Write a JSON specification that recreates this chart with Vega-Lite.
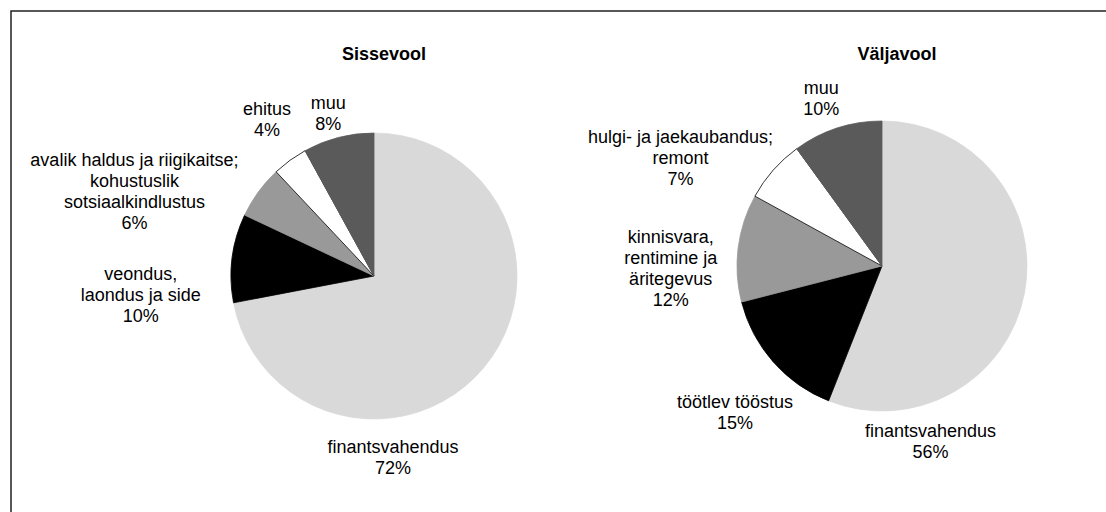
{
  "$schema": "https://vega.github.io/schema/vega-lite/v6.json",
  "width": 1105,
  "height": 511,
  "autosize": "none",
  "padding": {"left": 11, "top": 11, "right": -10, "bottom": -10},
  "background": "#ffffff",
  "config": {"view": {"stroke": "#222222", "strokeWidth": 1.5}, "font": "Liberation Sans"},
  "data": {"values": [
    {"flow": "Sissevool", "rank": 1, "sector": "finantsvahendus", "share": 72, "label": "finantsvahendus\n72%"},
    {"flow": "Sissevool", "rank": 2, "sector": "veondus, laondus ja side", "share": 10, "label": "veondus,\nlaondus ja side\n10%"},
    {"flow": "Sissevool", "rank": 3, "sector": "avalik haldus ja riigikaitse; kohustuslik sotsiaalkindlustus", "share": 6, "label": "avalik haldus ja riigikaitse;\nkohustuslik\nsotsiaalkindlustus\n6%"},
    {"flow": "Sissevool", "rank": 4, "sector": "ehitus", "share": 4, "label": "ehitus\n4%"},
    {"flow": "Sissevool", "rank": 5, "sector": "muu", "share": 8, "label": "muu\n8%"},
    {"flow": "Väljavool", "rank": 1, "sector": "finantsvahendus", "share": 56, "label": "finantsvahendus\n56%"},
    {"flow": "Väljavool", "rank": 2, "sector": "töötlev tööstus", "share": 15, "label": "töötlev tööstus\n15%"},
    {"flow": "Väljavool", "rank": 3, "sector": "kinnisvara, rentimine ja äritegevus", "share": 12, "label": "kinnisvara,\nrentimine ja\näritegevus\n12%"},
    {"flow": "Väljavool", "rank": 4, "sector": "hulgi- ja jaekaubandus; remont", "share": 7, "label": "hulgi- ja jaekaubandus;\nremont\n7%"},
    {"flow": "Väljavool", "rank": 5, "sector": "muu", "share": 10, "label": "muu\n10%"}
  ]},
  "encoding": {
    "x": {"field": "flow", "type": "nominal", "axis": null, "scale": {"type": "point", "domain": ["Sissevool", "Väljavool"], "range": [363, 871], "padding": 0}},
    "y": {"field": "flow", "type": "nominal", "axis": null, "scale": {"type": "point", "domain": ["Sissevool", "Väljavool"], "range": [265, 255], "padding": 0}}
  },
  "layer": [
    {
      "transform": [{"filter": "datum.flow === 'Sissevool'"}],
      "layer": [
        {
          "mark": {"type": "arc", "outerRadius": 143, "strokeWidth": 0.8},
          "encoding": {
            "theta": {"field": "share", "type": "quantitative", "stack": true},
            "order": {"field": "rank", "type": "quantitative"},
            "color": {"field": "sector", "type": "nominal", "legend": null, "scale": {"domain": ["finantsvahendus", "veondus, laondus ja side", "töötlev tööstus", "avalik haldus ja riigikaitse; kohustuslik sotsiaalkindlustus", "kinnisvara, rentimine ja äritegevus", "ehitus", "hulgi- ja jaekaubandus; remont", "muu"], "range": ["#d9d9d9", "#000000", "#000000", "#999999", "#999999", "#ffffff", "#ffffff", "#5a5a5a"]}},
            "stroke": {"field": "sector", "type": "nominal", "legend": null, "scale": {"domain": ["finantsvahendus", "veondus, laondus ja side", "töötlev tööstus", "avalik haldus ja riigikaitse; kohustuslik sotsiaalkindlustus", "kinnisvara, rentimine ja äritegevus", "ehitus", "hulgi- ja jaekaubandus; remont", "muu"], "range": ["#d9d9d9", "#000000", "#000000", "#999999", "#999999", "#000000", "#000000", "#5a5a5a"]}}
          }
        },
        {
          "mark": {"type": "text", "radius": 131, "dx": -82, "dy": 88.5, "fontSize": 18, "lineBreak": "\n", "lineHeight": 21, "baseline": "middle", "align": "center", "color": "#000000"},
          "encoding": {
            "theta": {"field": "share", "type": "quantitative", "stack": true},
            "order": {"field": "rank", "type": "quantitative"},
            "detail": {"field": "sector", "type": "nominal"},
            "text": {"condition": {"test": "datum.rank === 1", "field": "label", "type": "nominal"}, "value": ""}
          }
        },
        {
          "mark": {"type": "text", "radius": 229, "dx": -6, "dy": 28, "fontSize": 18, "lineBreak": "\n", "lineHeight": 21, "baseline": "middle", "align": "center", "color": "#000000"},
          "encoding": {
            "theta": {"field": "share", "type": "quantitative", "stack": true},
            "order": {"field": "rank", "type": "quantitative"},
            "detail": {"field": "sector", "type": "nominal"},
            "text": {"condition": {"test": "datum.rank === 2", "field": "label", "type": "nominal"}, "value": ""}
          }
        },
        {
          "mark": {"type": "text", "radius": 243, "dx": -43, "dy": 27.5, "fontSize": 18, "lineBreak": "\n", "lineHeight": 21, "baseline": "middle", "align": "center", "color": "#000000"},
          "encoding": {
            "theta": {"field": "share", "type": "quantitative", "stack": true},
            "order": {"field": "rank", "type": "quantitative"},
            "detail": {"field": "sector", "type": "nominal"},
            "text": {"condition": {"test": "datum.rank === 3", "field": "label", "type": "nominal"}, "value": ""}
          }
        },
        {
          "mark": {"type": "text", "radius": 189, "dx": 4, "dy": -13.5, "fontSize": 18, "lineBreak": "\n", "lineHeight": 21, "baseline": "middle", "align": "center", "color": "#000000"},
          "encoding": {
            "theta": {"field": "share", "type": "quantitative", "stack": true},
            "order": {"field": "rank", "type": "quantitative"},
            "detail": {"field": "sector", "type": "nominal"},
            "text": {"condition": {"test": "datum.rank === 4", "field": "label", "type": "nominal"}, "value": ""}
          }
        },
        {
          "mark": {"type": "text", "radius": 168, "dx": -4, "dy": -9.5, "fontSize": 18, "lineBreak": "\n", "lineHeight": 21, "baseline": "middle", "align": "center", "color": "#000000"},
          "encoding": {
            "theta": {"field": "share", "type": "quantitative", "stack": true},
            "order": {"field": "rank", "type": "quantitative"},
            "detail": {"field": "sector", "type": "nominal"},
            "text": {"condition": {"test": "datum.rank === 5", "field": "label", "type": "nominal"}, "value": ""}
          }
        },
        {
          "transform": [{"aggregate": [{"op": "sum", "field": "share", "as": "total"}], "groupby": ["flow"]}],
          "mark": {"type": "text", "fontSize": 18, "fontWeight": "bold", "dx": 10, "dy": -216, "baseline": "alphabetic", "align": "center", "color": "#000000"},
          "encoding": {"text": {"field": "flow", "type": "nominal"}}
        }
      ]
    },
    {
      "transform": [{"filter": "datum.flow === 'Väljavool'"}],
      "layer": [
        {
          "mark": {"type": "arc", "outerRadius": 145, "strokeWidth": 0.8},
          "encoding": {
            "theta": {"field": "share", "type": "quantitative", "stack": true},
            "order": {"field": "rank", "type": "quantitative"},
            "color": {"field": "sector", "type": "nominal", "legend": null, "scale": {"domain": ["finantsvahendus", "veondus, laondus ja side", "töötlev tööstus", "avalik haldus ja riigikaitse; kohustuslik sotsiaalkindlustus", "kinnisvara, rentimine ja äritegevus", "ehitus", "hulgi- ja jaekaubandus; remont", "muu"], "range": ["#d9d9d9", "#000000", "#000000", "#999999", "#999999", "#ffffff", "#ffffff", "#5a5a5a"]}},
            "stroke": {"field": "sector", "type": "nominal", "legend": null, "scale": {"domain": ["finantsvahendus", "veondus, laondus ja side", "töötlev tööstus", "avalik haldus ja riigikaitse; kohustuslik sotsiaalkindlustus", "kinnisvara, rentimine ja äritegevus", "ehitus", "hulgi- ja jaekaubandus; remont", "muu"], "range": ["#d9d9d9", "#000000", "#000000", "#999999", "#999999", "#000000", "#000000", "#5a5a5a"]}}
          }
        },
        {
          "mark": {"type": "text", "radius": 81, "dx": -31, "dy": 150.5, "fontSize": 18, "lineBreak": "\n", "lineHeight": 21, "baseline": "middle", "align": "center", "color": "#000000"},
          "encoding": {
            "theta": {"field": "share", "type": "quantitative", "stack": true},
            "order": {"field": "rank", "type": "quantitative"},
            "detail": {"field": "sector", "type": "nominal"},
            "text": {"condition": {"test": "datum.rank === 1", "field": "label", "type": "nominal"}, "value": ""}
          }
        },
        {
          "mark": {"type": "text", "radius": 208, "dx": 9, "dy": -0.5, "fontSize": 18, "lineBreak": "\n", "lineHeight": 21, "baseline": "middle", "align": "center", "color": "#000000"},
          "encoding": {
            "theta": {"field": "share", "type": "quantitative", "stack": true},
            "order": {"field": "rank", "type": "quantitative"},
            "detail": {"field": "sector", "type": "nominal"},
            "text": {"condition": {"test": "datum.rank === 2", "field": "label", "type": "nominal"}, "value": ""}
          }
        },
        {
          "mark": {"type": "text", "radius": 209, "dx": -4, "dy": -1.5, "fontSize": 18, "lineBreak": "\n", "lineHeight": 21, "baseline": "middle", "align": "center", "color": "#000000"},
          "encoding": {
            "theta": {"field": "share", "type": "quantitative", "stack": true},
            "order": {"field": "rank", "type": "quantitative"},
            "detail": {"field": "sector", "type": "nominal"},
            "text": {"condition": {"test": "datum.rank === 3", "field": "label", "type": "nominal"}, "value": ""}
          }
        },
        {
          "mark": {"type": "text", "radius": 222, "dx": -35, "dy": 19, "fontSize": 18, "lineBreak": "\n", "lineHeight": 21, "baseline": "middle", "align": "center", "color": "#000000"},
          "encoding": {
            "theta": {"field": "share", "type": "quantitative", "stack": true},
            "order": {"field": "rank", "type": "quantitative"},
            "detail": {"field": "sector", "type": "nominal"},
            "text": {"condition": {"test": "datum.rank === 4", "field": "label", "type": "nominal"}, "value": ""}
          }
        },
        {
          "mark": {"type": "text", "radius": 177, "dx": -6, "dy": -8.5, "fontSize": 18, "lineBreak": "\n", "lineHeight": 21, "baseline": "middle", "align": "center", "color": "#000000"},
          "encoding": {
            "theta": {"field": "share", "type": "quantitative", "stack": true},
            "order": {"field": "rank", "type": "quantitative"},
            "detail": {"field": "sector", "type": "nominal"},
            "text": {"condition": {"test": "datum.rank === 5", "field": "label", "type": "nominal"}, "value": ""}
          }
        },
        {
          "transform": [{"aggregate": [{"op": "sum", "field": "share", "as": "total"}], "groupby": ["flow"]}],
          "mark": {"type": "text", "fontSize": 18, "fontWeight": "bold", "dx": 15, "dy": -206, "baseline": "alphabetic", "align": "center", "color": "#000000"},
          "encoding": {"text": {"field": "flow", "type": "nominal"}}
        }
      ]
    }
  ]
}
